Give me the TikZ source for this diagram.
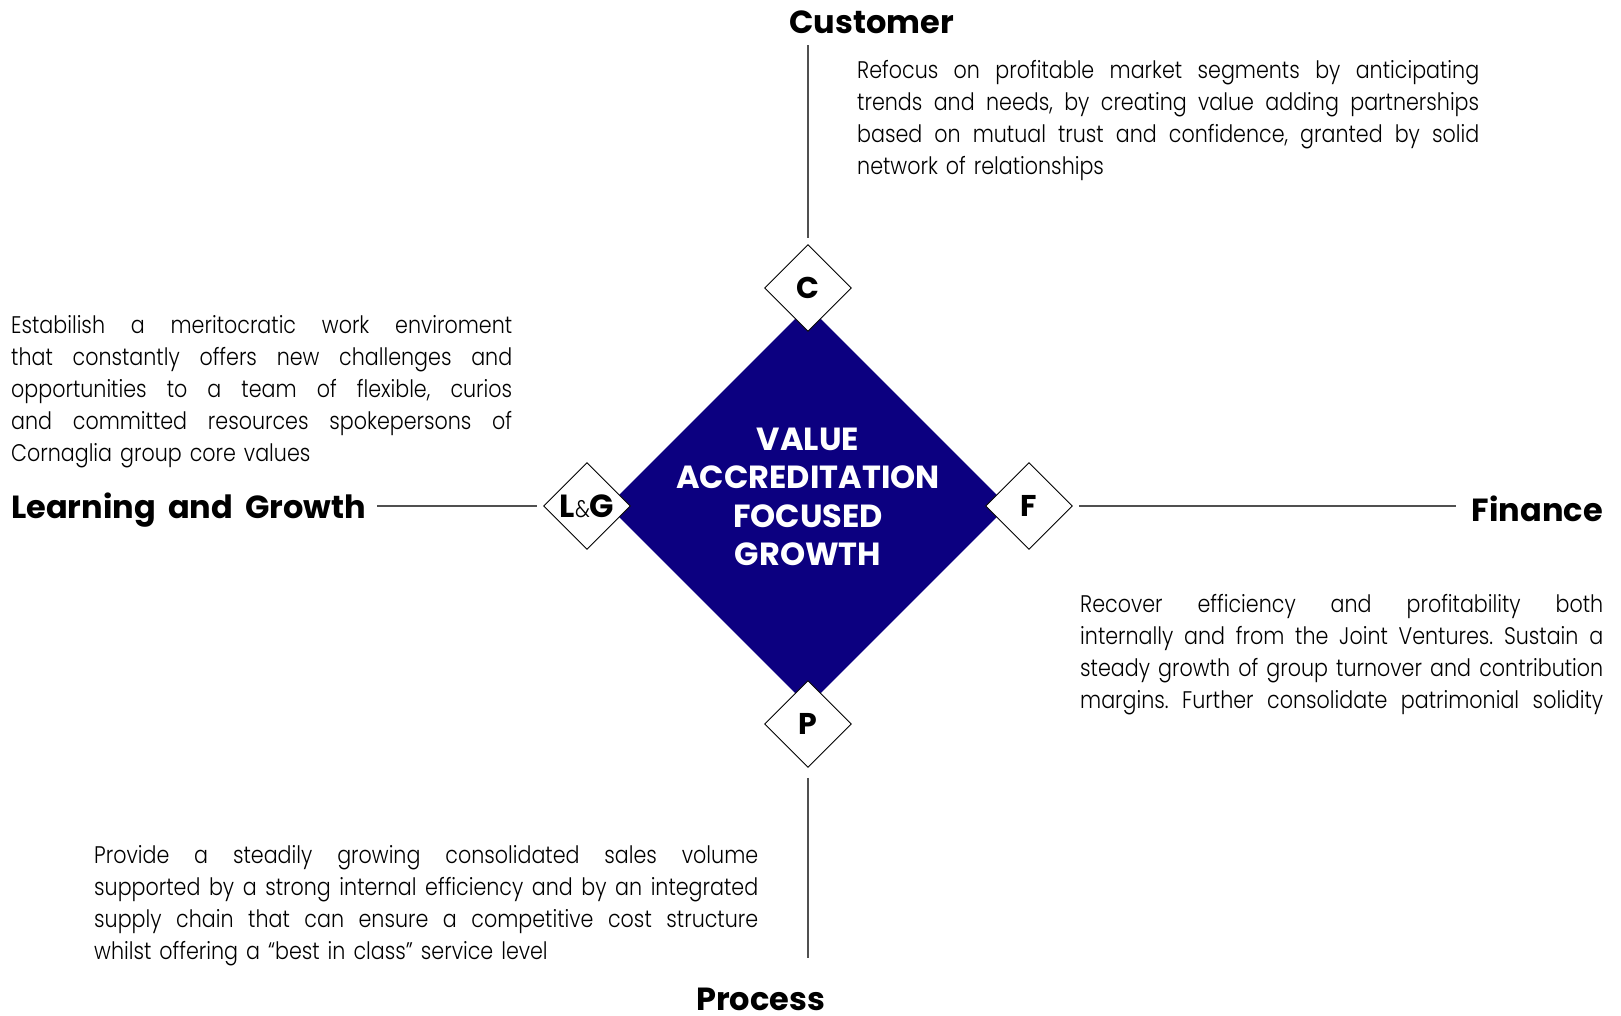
\documentclass[tikz,border=0pt]{standalone}
\usepackage{fontspec}
\usetikzlibrary{shapes.geometric}
\setmainfont{Poppins}
\IfFontExistsTF{Poppins Light}
  {\newfontfamily\bodyfam{Poppins Light}[FakeStretch=0.86]}
  {\newfontfamily\bodyfam{Poppins}[FakeStretch=0.86]}
\IfFontExistsTF{Poppins Bold}
  {\newfontfamily\headfam{Poppins Bold}[WordSpace=1.8]}
  {\newfontfamily\headfam{Poppins}[FakeBold=2,WordSpace=1.8]}
\definecolor{corenavy}{RGB}{12,0,128}
\definecolor{linegray}{RGB}{80,80,80}
\newcommand{\jl}[1]{\hbox to \hsize{\spaceskip=0.3em plus 1fil\relax #1}\par}
\frenchspacing
\begin{document}
\begin{tikzpicture}[x=1pt,y=-1pt,
  bodytext/.style={anchor=base west,inner sep=0pt,font=\fontsize{24}{32}\selectfont\bodyfam\frenchspacing},
  titletext/.style={inner sep=0pt,font=\fontsize{32}{38}\selectfont\headfam},
  smalldia/.style={shape=diamond,draw=black,fill=white,line width=0.9pt,minimum width=87pt,minimum height=87pt,inner sep=0pt,font=\fontsize{30}{32}\selectfont\headfam},
  conn/.style={draw=linegray,line width=1.3pt}]
\useasboundingbox (0,0) rectangle (1621,1016);
% core diamond
\node[shape=diamond,fill=corenavy,minimum width=400pt,minimum height=400pt,inner sep=0pt] (core) at (808,506) {};
\node[align=center,inner sep=0pt,text=white,font=\fontsize{32}{38.5}\selectfont\headfam] (corelabel) at (808,497) {VALUE\\ACCREDITATION\\FOCUSED\\GROWTH};
% small diamonds
\node[smalldia] (cdia) at (808,288) {C};
\node[smalldia] (pdia) at (808,724) {P};
\node[smalldia] (fdia) at (1029,506) {F};
\node[smalldia,font=\fontsize{32}{34}\selectfont\headfam] (lgdia) at (587,506) {L{\bodyfam\fontsize{24}{26}\selectfont\&}G};
% connector ends
\coordinate (ctop) at (808,45.5);
\coordinate (pbot) at (808,958);
\coordinate (lgend) at (377,506);
\coordinate (fend) at (1456,506);
\draw[conn] ([yshift=6.5pt]cdia.north) -- (ctop);
\draw[conn] ([yshift=-10pt]pdia.south) -- (pbot);
\draw[conn] ([xshift=-6.5pt]lgdia.west) -- (lgend);
\draw[conn] ([xshift=6.5pt]fdia.east) -- (fend);
% titles
\node[titletext,anchor=base] (tcust) at (871.5,34) {Customer};
\node[titletext,anchor=base west] (tlg) at (11,518) {Learning and Growth};
\node[titletext,anchor=base east] (tfin) at (1603,521) {Finance};
\node[titletext,anchor=base] (tproc) at (760.5,1010) {Process};
% paragraphs
\node[bodytext,text width=622pt] (pcust) at (857,78.5) {%
\jl{Refocus on profitable market segments by anticipating}%
\jl{trends and needs, by creating value adding partnerships}%
\jl{based on mutual trust and confidence, granted by solid}%
network of relationships};
\node[bodytext,text width=501pt] (plg) at (11,333) {%
\jl{Estabilish a meritocratic work enviroment}%
\jl{that constantly offers new challenges and}%
\jl{opportunities to a team of flexible, curios}%
\jl{and committed resources spokepersons of}%
Cornaglia group core values};
\node[bodytext,text width=523pt] (pfin) at (1080,612) {%
\jl{Recover efficiency and profitability both}%
\jl{internally and from the Joint Ventures. Sustain a}%
\jl{steady growth of group turnover and contribution}%
\jl{margins. Further consolidate patrimonial solidity}};
\node[bodytext,text width=664pt] (pproc) at (94,863) {%
\jl{Provide a steadily growing consolidated sales volume}%
\jl{supported by a strong internal efficiency and by an integrated}%
\jl{supply chain that can ensure a competitive cost structure}%
whilst offering a “best in class” service level};
\end{tikzpicture}
\end{document}
